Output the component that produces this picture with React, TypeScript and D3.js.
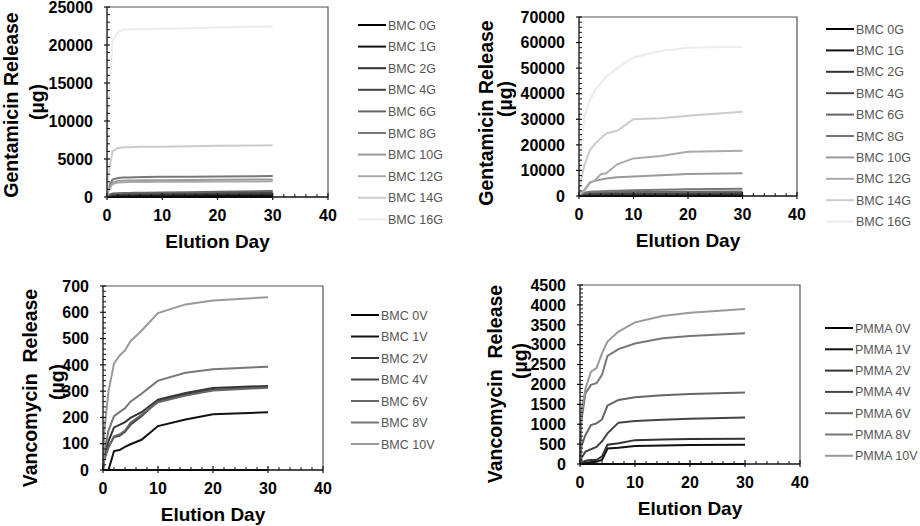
import React from 'react';
import * as d3 from 'd3';

const FONT = '"Liberation Sans", Arial, sans-serif';

// sampling days shared by every series
const days = [0, 0.25, 1, 2, 3, 4, 5, 7, 10, 15, 20, 30];

const gentLabels = ['BMC 0G', 'BMC 1G', 'BMC 2G', 'BMC 4G', 'BMC 6G', 'BMC 8G', 'BMC 10G', 'BMC 12G', 'BMC 14G', 'BMC 16G'];
const gentColors = ['#000', '#111', '#333', '#444', '#666', '#777', '#999', '#aaa', '#ccc', '#ececec'];

// top-left panel
const gentA = [
  [0, 0, 0, 0, 0, 0, 0, 0, 0, 0, 0, 0],
  [0, 50, 100, 120, 130, 140, 150, 160, 170, 180, 190, 200],
  [0, 150, 250, 280, 300, 310, 320, 330, 340, 360, 380, 400],
  [0, 200, 350, 400, 420, 430, 440, 450, 470, 500, 530, 560],
  [0, 250, 450, 500, 520, 540, 550, 560, 600, 640, 700, 800],
  [0, 1200, 2300, 2500, 2550, 2580, 2600, 2620, 2650, 2680, 2710, 2750],
  [0, 900, 1900, 2100, 2150, 2170, 2180, 2200, 2220, 2240, 2270, 2300],
  [0, 800, 1700, 1900, 1950, 1970, 1980, 1990, 2000, 2020, 2040, 2060],
  [0, 3000, 6000, 6450, 6550, 6560, 6580, 6600, 6620, 6680, 6740, 6800],
  [0, 12000, 20500, 21700, 22000, 22050, 22080, 22100, 22150, 22200, 22300, 22450],
];

// top-right panel
const gentB = [
  [0, 0, 0, 0, 0, 0, 0, 0, 0, 0, 0, 0],
  [0, 100, 200, 250, 280, 300, 310, 320, 330, 340, 350, 360],
  [0, 200, 400, 500, 550, 580, 600, 620, 650, 680, 700, 720],
  [0, 300, 700, 850, 900, 920, 940, 960, 1000, 1050, 1100, 1150],
  [0, 500, 1200, 1400, 1450, 1480, 1500, 1550, 1600, 1650, 1700, 1750],
  [0, 700, 1300, 1700, 1800, 1900, 2000, 2100, 2200, 2400, 2600, 2800],
  [0, 800, 2300, 5300, 6000, 6400, 6800, 7300, 7600, 8100, 8600, 8900],
  [0, 700, 2300, 5000, 6300, 8500, 8900, 12400, 14700, 15600, 17300, 17700],
  [0, 5000, 12100, 18000, 20600, 22500, 24500, 25500, 30000, 30400, 31400, 32900],
  [0, 16000, 31000, 37500, 41500, 44000, 46700, 49900, 54200, 56700, 58000, 58400],
];

const bmcVancLabels = ['BMC 0V', 'BMC 1V', 'BMC 2V', 'BMC 4V', 'BMC 6V', 'BMC 8V', 'BMC 10V'];
const pmmaVancLabels = ['PMMA 0V', 'PMMA 1V', 'PMMA 2V', 'PMMA 4V', 'PMMA 6V', 'PMMA 8V', 'PMMA 10V'];
const vancColors = ['#000', '#111', '#333', '#444', '#666', '#777', '#999'];

const bmcVanc = [
  [0, 0, 0, 0, 0, 0, 0, 0, 0, 0, 0, 0],
  [0, 0, 0, 72, 76, 88, 98, 115, 167, 192, 212, 220],
  [0, 60, 110, 162, 172, 182, 198, 220, 268, 293, 312, 320],
  [0, 45, 90, 125, 130, 145, 172, 205, 262, 288, 305, 316],
  [0, 40, 85, 128, 135, 150, 180, 210, 258, 283, 302, 313],
  [0, 70, 150, 205, 220, 235, 260, 290, 340, 370, 383, 393],
  [0, 150, 300, 405, 435, 455, 490, 530, 597, 630, 645, 657],
];

const pmmaVanc = [
  [0, 0, 0, 0, 0, 0, 0, 0, 0, 0, 0, 0],
  [0, 10, 30, 45, 55, 100, 390, 410, 455, 465, 475, 485],
  [0, 30, 80, 100, 100, 190, 485, 520, 600, 615, 630, 637],
  [0, 150, 310, 370, 430, 570, 770, 1040, 1080, 1110, 1140, 1170],
  [0, 450, 730, 980, 1020, 1120, 1470, 1610, 1680, 1730, 1760, 1800],
  [0, 1100, 1780, 1990, 2030, 2240, 2720, 2890, 3030, 3160, 3220, 3285],
  [0, 1300, 1900, 2320, 2410, 2780, 3080, 3330, 3560, 3720, 3800, 3895],
];

type PanelProps = {
  left: number; right: number; top: number; bottom: number;
  yMax: number; yStep: number;
  series: number[][]; labels: string[]; colors: string[];
  legX: number; legY: number; legGap: number;
  title: string;
  t1: [number, number]; t2: [number, number];
};

const bold = { fontFamily: FONT, fontWeight: 700 } as const;

const Panel = (p: PanelProps) => {
  const x = d3.scaleLinear().domain([0, 40]).range([p.left, p.right]);
  const y = d3.scaleLinear().domain([0, p.yMax]).range([p.bottom, p.top]);
  const line = d3.line<number>().x((_, i) => x(days[i])).y(d => y(d));

  const yMajor = d3.range(0, p.yMax + 1, p.yStep);
  const yMinor = d3.range(0, p.yMax, p.yStep / 5).filter(v => v % p.yStep !== 0);
  const xMajor = [0, 10, 20, 30, 40];
  const xMinor = d3.range(2, 40, 2).filter(v => v % 10 !== 0);

  return (
    <g>
      {/* frame */}
      <path d={`M${p.left},${p.top}H${p.right}V${p.bottom}`} fill="none" stroke="#555" strokeWidth={1.2} />
      {p.series.map((s, i) => (
        <path key={i} d={line(s) as string} fill="none" stroke={p.colors[i]} strokeWidth={2} />
      ))}
      {/* axes */}
      <line x1={p.left} x2={p.left} y1={p.top} y2={p.bottom} stroke="#111" strokeWidth={1.3} />
      <line x1={p.left} x2={p.right} y1={p.bottom} y2={p.bottom} stroke="#111" strokeWidth={1.3} />
      {yMinor.map(v => (
        <line key={'ym' + v} x1={p.left} x2={p.left + 3} y1={y(v)} y2={y(v)} stroke="#111" />
      ))}
      {yMajor.map(v => (
        <g key={'y' + v}>
          <line x1={p.left - 3} x2={p.left + 3} y1={y(v)} y2={y(v)} stroke="#111" strokeWidth={1.2} />
          <text x={p.left - 14} y={y(v)} dy="0.36em" textAnchor="end" fontSize={16} style={bold}>{v}</text>
        </g>
      ))}
      {xMinor.map(v => (
        <line key={'xm' + v} x1={x(v)} x2={x(v)} y1={p.bottom} y2={p.bottom - 3} stroke="#111" />
      ))}
      {xMajor.map(v => (
        <g key={'x' + v}>
          <line x1={x(v)} x2={x(v)} y1={p.bottom - 4} y2={p.bottom + 3} stroke="#111" strokeWidth={1.2} />
          <text x={x(v)} y={p.bottom + 24} textAnchor="middle" fontSize={16} style={bold}>{v}</text>
        </g>
      ))}
      <text x={(p.left + p.right) / 2} y={p.bottom + 51} textAnchor="middle" fontSize={19} style={bold}>Elution Day</text>
      <text transform={`translate(${p.t1[0]},${p.t1[1]}) rotate(-90)`} textAnchor="middle" fontSize={19.5} style={{ ...bold, whiteSpace: 'pre' }}>{p.title}</text>
      <text transform={`translate(${p.t2[0]},${p.t2[1]}) rotate(-90)`} textAnchor="middle" fontSize={19.5} style={bold}>(µg)</text>
      {/* legend */}
      {p.labels.map((l, i) => (
        <g key={l} transform={`translate(${p.legX},${p.legY + i * p.legGap})`}>
          <line x1={0} x2={28} stroke={p.colors[i]} strokeWidth={2} />
          <text x={30} dy="0.36em" fontSize={12.5} fill="#555" style={{ fontFamily: FONT }}>{l}</text>
        </g>
      ))}
    </g>
  );
};

export default function App() {
  return (
    <svg width={920} height={526} style={{ position: 'absolute', left: 0, top: 0, background: '#fff', fontFamily: FONT }}>
      <Panel left={107} right={328} top={7} bottom={197} yMax={25000} yStep={5000}
        series={gentA} labels={gentLabels} colors={gentColors}
        legX={358} legY={25} legGap={21.6} title="Gentamicin Release" t1={[18, 105]} t2={[44, 102]} />
      <Panel left={579} right={797} top={17} bottom={196} yMax={70000} yStep={10000}
        series={gentB} labels={gentLabels} colors={gentColors}
        legX={826} legY={29} legGap={21.4} title="Gentamicin Release" t1={[493, 113]} t2={[512, 99]} />
      <Panel left={103} right={323} top={286} bottom={470} yMax={700} yStep={100}
        series={bmcVanc} labels={bmcVancLabels} colors={vancColors}
        legX={351} legY={315} legGap={21.5} title="Vancomycin  Release" t1={[37, 388]} t2={[64, 382]} />
      <Panel left={580} right={800} top={285} bottom={464} yMax={4500} yStep={500}
        series={pmmaVanc} labels={pmmaVancLabels} colors={vancColors}
        legX={825} legY={328} legGap={21.3} title="Vancomycin  Release" t1={[502, 384]} t2={[527, 361]} />
    </svg>
  );
}
